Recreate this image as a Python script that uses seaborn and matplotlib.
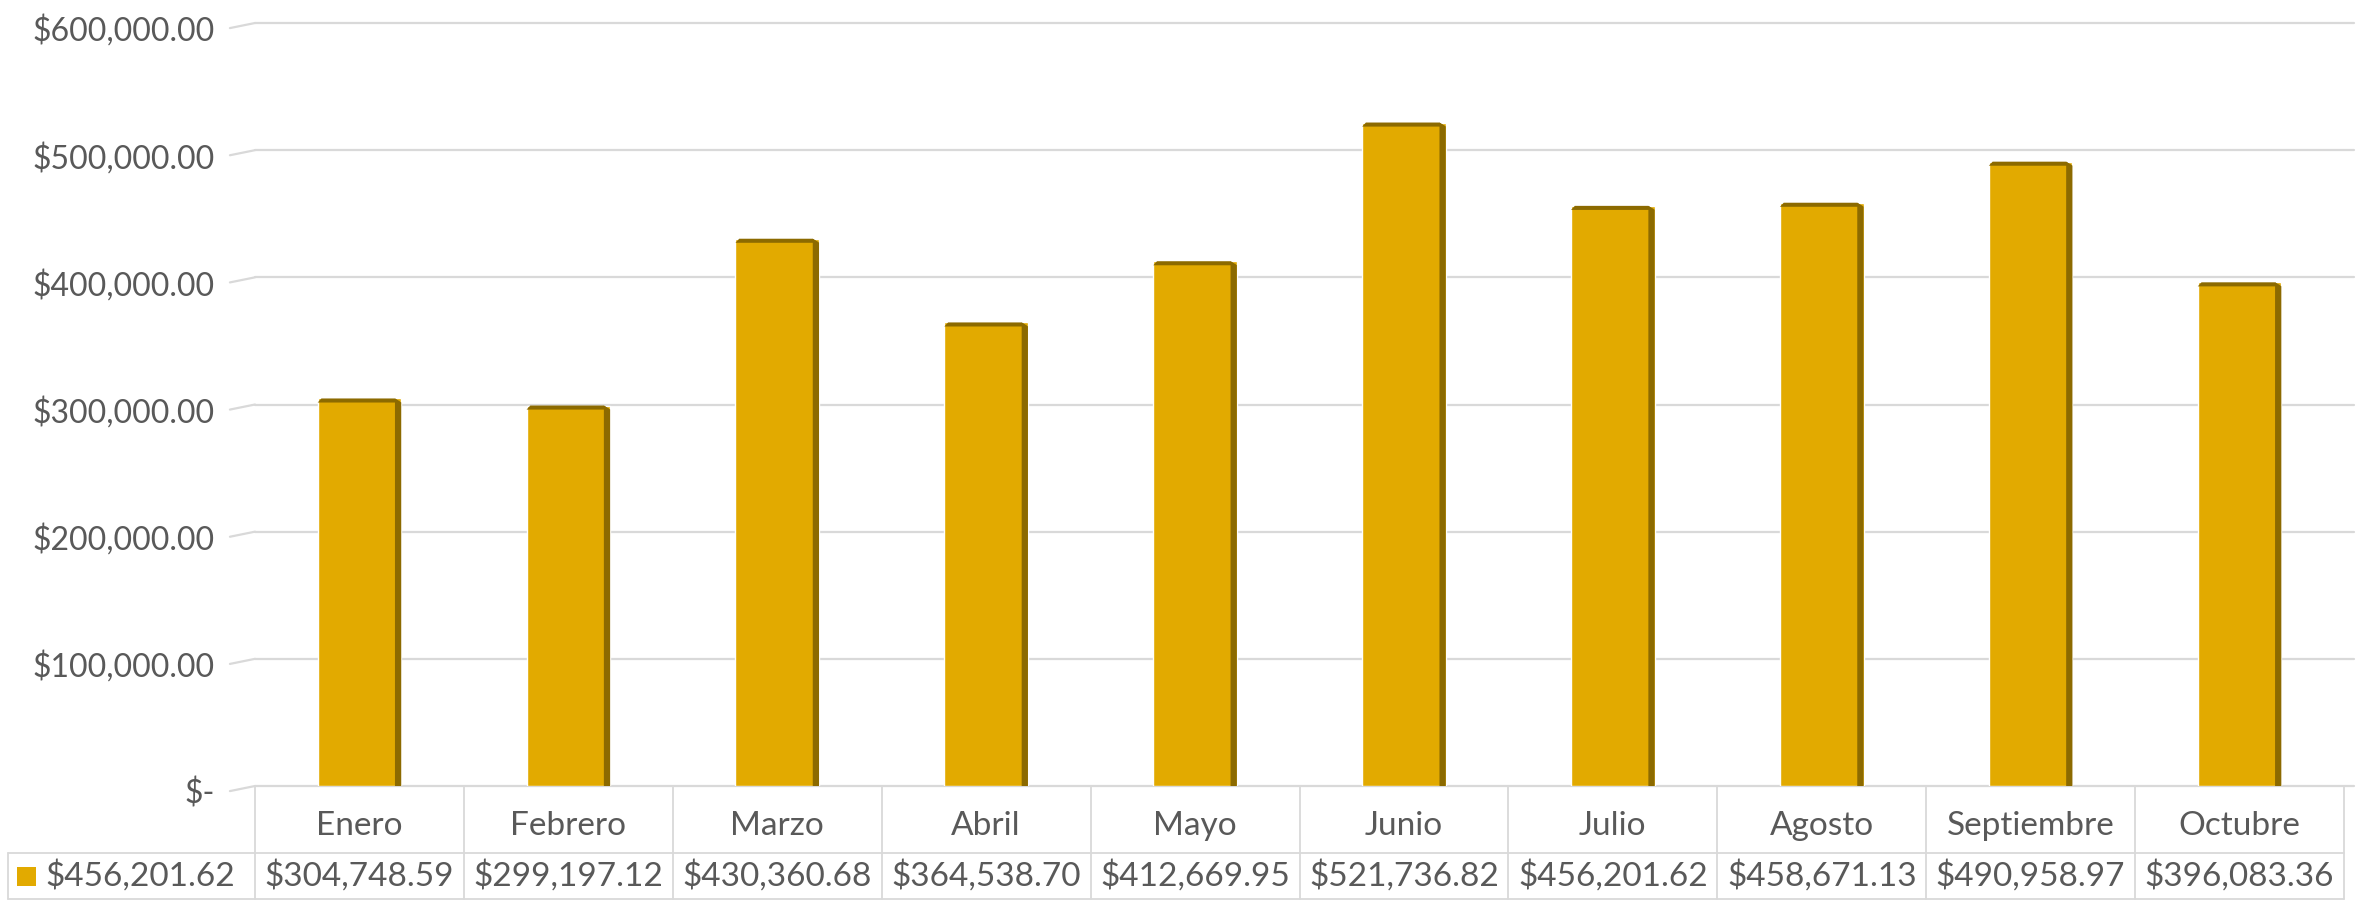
import matplotlib
matplotlib.use("Agg")
import matplotlib.pyplot as plt
import matplotlib.transforms as mtransforms
from matplotlib.patches import Polygon, Rectangle
from matplotlib.lines import Line2D
from matplotlib.ticker import FuncFormatter
import pandas as pd
import seaborn as sns

# Data
meses = ["Enero", "Febrero", "Marzo", "Abril", "Mayo", "Junio",
         "Julio", "Agosto", "Septiembre", "Octubre"]
ventas = [304748.59, 299197.12, 430360.68, 364538.70, 412669.95,
          521736.82, 456201.62, 458671.13, 490958.97, 396083.36]
serie = "$456,201.62"

sns.set_theme(style="white")
plt.rcParams["font.family"] = ["Lato", "DejaVu Sans"]

gold = "#E2AA00"
dark = "#8C6A00"
text_col = "#595959"
line_col = "#D9D9D9"
fs_axis = 23
fs_table = 24

df = pd.DataFrame({"mes": meses, "venta": ventas})

fig = plt.figure(figsize=(23.56, 9.01), dpi=100)
W, H = 2356, 901
ax = fig.add_axes([255 / W, 1 - 786 / H, (2344 - 255) / W, (786 - 23) / H])

sns.barplot(data=df, x="mes", y="venta", color=gold, width=0.4,
            saturation=1, ax=ax, zorder=3)

ax.set_xlim(-0.5, len(meses) - 0.5)
ax.set_ylim(0, 600000)
ax.set_yticks(range(0, 600001, 100000))
ax.yaxis.set_major_formatter(FuncFormatter(
    lambda v, p: "$-" if v == 0 else f"${v:,.2f}"))
ax.tick_params(axis="y", labelsize=fs_axis, labelcolor=text_col, length=0,
               pad=29)
ax.set_xticks([])
ax.set_xlabel("")
ax.set_ylabel("")
for s in ax.spines.values():
    s.set_visible(False)

# Excel puts the value labels a bit below their gridline
shift = mtransforms.ScaledTranslation(0, -5 / 100, fig.dpi_scale_trans)
for lab in ax.get_yticklabels():
    lab.set_transform(lab.get_transform() + shift)

# gridlines with small slanted 3D corner
for v in range(0, 600001, 100000):
    ax.plot([-0.5, 9.55], [v, v], color=line_col, lw=1.6, zorder=1,
            clip_on=False)
    ax.plot([-0.62, -0.5], [v - 4000, v], color=line_col, lw=1.6,
            zorder=1, clip_on=False)

# 3D shading of bars
dx = 0.03
dy = 3200
for p in ax.patches:
    x0 = p.get_x()
    x1 = x0 + p.get_width()
    h = p.get_height()
    side = Polygon([(x1 - dx, 0), (x1, 0), (x1, h - dy), (x1 - dx, h)],
                   closed=True, facecolor=dark, edgecolor="none", zorder=4)
    top = Polygon([(x0 + dx * 0.6, h), (x1 - dx, h), (x1, h - dy),
                   (x0, h - dy)],
                  closed=True, facecolor=dark, edgecolor="none", zorder=4)
    ax.add_patch(side)
    ax.add_patch(top)

# data table below the chart
trans = mtransforms.blended_transform_factory(ax.transData, fig.transFigure)
y_top = 1 - 786 / H
y_mid = 1 - 853 / H
y_bot = 1 - 899 / H
x_left = -0.5 - 247 / 209

for i in range(len(meses) + 1):
    xb = i - 0.5
    fig.add_artist(Line2D([xb, xb], [y_top, y_bot], transform=trans,
                          color=line_col, lw=1.3))
fig.add_artist(Line2D([x_left, x_left], [y_mid, y_bot], transform=trans,
                      color=line_col, lw=1.3))
fig.add_artist(Line2D([x_left, 9.5], [y_mid, y_mid], transform=trans,
                      color=line_col, lw=1.3))
fig.add_artist(Line2D([x_left, 9.5], [y_bot, y_bot], transform=trans,
                      color=line_col, lw=1.3))

for i, (m, v) in enumerate(zip(meses, ventas)):
    fig.text(i, 1 - 826 / H, m, transform=trans, ha="center", va="center",
             fontsize=fs_table, color=text_col)
    fig.text(i, 1 - 876 / H, f"${v:,.2f}", transform=trans, ha="center",
             va="center", fontsize=fs_table, color=text_col)

# legend key
fig.add_artist(Rectangle((17 / W, 1 - 886 / H), 19 / W, 19 / H,
                         transform=fig.transFigure, facecolor=gold,
                         edgecolor="none"))
fig.text(45 / W, 1 - 876 / H, serie, ha="left", va="center",
         fontsize=fs_table, color=text_col)

fig.savefig("out.png", dpi=100)
plt.close(fig)
